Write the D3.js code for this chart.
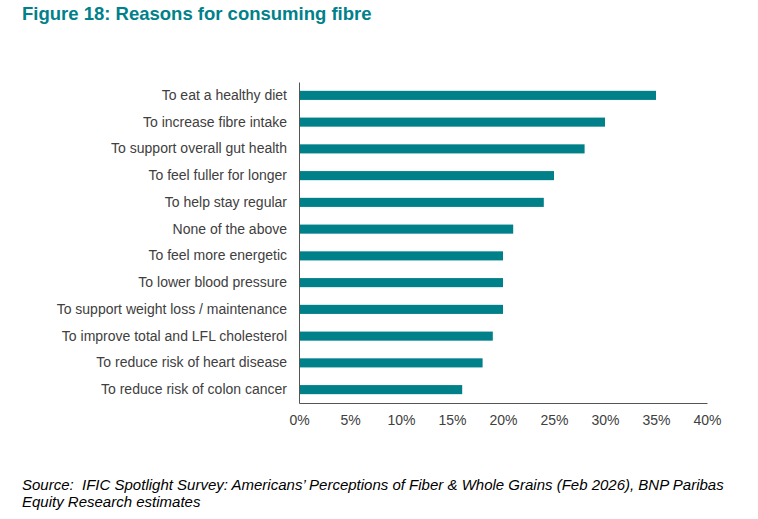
<!DOCTYPE html>
<html>
<head>
<meta charset="utf-8">
<script src="https://cdn.jsdelivr.net/npm/d3@7"></script>
<style>
  body { margin: 0; background: #fff; }
  text { font-family: "Liberation Sans", Arial, sans-serif; }
</style>
</head>
<body>
<div id="chart-container"></div>
<script>
const categories = [
    "To eat a healthy diet",
    "To increase fibre intake",
    "To support overall gut health",
    "To feel fuller for longer",
    "To help stay regular",
    "None of the above",
    "To feel more energetic",
    "To lower blood pressure",
    "To support weight loss / maintenance",
    "To improve total and LFL cholesterol",
    "To reduce risk of heart disease",
    "To reduce risk of colon cancer"
]
const values = [35, 30, 28, 25, 24, 21, 20, 20, 20, 19, 18, 16]
const xTicks = [0, 5, 10, 15, 20, 25, 30, 35, 40]

const data = categories.map((c, i) => ({ name: c, value: values[i] }))

const W = 758, H = 519
const margin = {top: 82, right: 51, bottom: 116, left: 299}
const width = W - margin.left - margin.right
const height = H - margin.top - margin.bottom
const teal = "#00818a"

const svg = d3.select("#chart-container")
    .append("svg")
        .attr("width", W)
        .attr("height", H)

svg.append("text")
    .attr("x", 22)
    .attr("y", 20)
    .attr("fill", teal)
    .attr("font-size", "18.5px")
    .attr("font-weight", "bold")
    .text("Figure 18: Reasons for consuming fibre")

const g = svg.append("g")
    .attr("transform", `translate(${margin.left}, ${margin.top})`)

const x = d3.scaleLinear()
    .domain([0, 40])
    .range([0, width])
const y = d3.scaleBand()
    .domain(categories)
    .range([0, height])
    .paddingInner(0.66)
    .paddingOuter(0.33)

g.selectAll(".bar")
    .data(data)
    .enter().append("rect")
        .attr("class", "bar")
        .attr("x", 0)
        .attr("y", d => y(d.name))
        .attr("width", d => x(d.value))
        .attr("height", y.bandwidth())
        .attr("fill", teal)

// x axis: line + labels, no tick marks
const xAxis = g.append("g")
    .attr("transform", `translate(0, ${height})`)
    .call(d3.axisBottom(x)
        .tickValues(xTicks)
        .tickSize(0)
        .tickPadding(12)
        .tickFormat(d => d + "%"))
xAxis.select(".domain").attr("stroke", "#555").attr("stroke-width", 1)
xAxis.selectAll("text")
    .attr("fill", "#404040")
    .attr("font-size", "14px")
    .attr("font-family", "Liberation Sans, Arial, sans-serif")

const yAxis = g.append("g")
    .call(d3.axisLeft(y).tickSize(0).tickPadding(12))
yAxis.select(".domain").attr("stroke", "#555").attr("stroke-width", 1)
yAxis.selectAll("text")
    .attr("fill", "#404040")
    .attr("font-size", "14px")
    .attr("font-family", "Liberation Sans, Arial, sans-serif")

const source = svg.append("text")
    .attr("x", 22)
    .attr("y", 490)
    .attr("font-size", "15px")
    .attr("font-style", "italic")
    .attr("fill", "#000")
source.append("tspan")
    .attr("x", 22)
    .text("Source:\u00a0 IFIC Spotlight Survey: Americans\u2019 Perceptions of Fiber & Whole Grains (Feb 2026), BNP Paribas")
source.append("tspan")
    .attr("x", 22)
    .attr("dy", 17)
    .text("Equity Research estimates")
</script>
</body>
</html>
